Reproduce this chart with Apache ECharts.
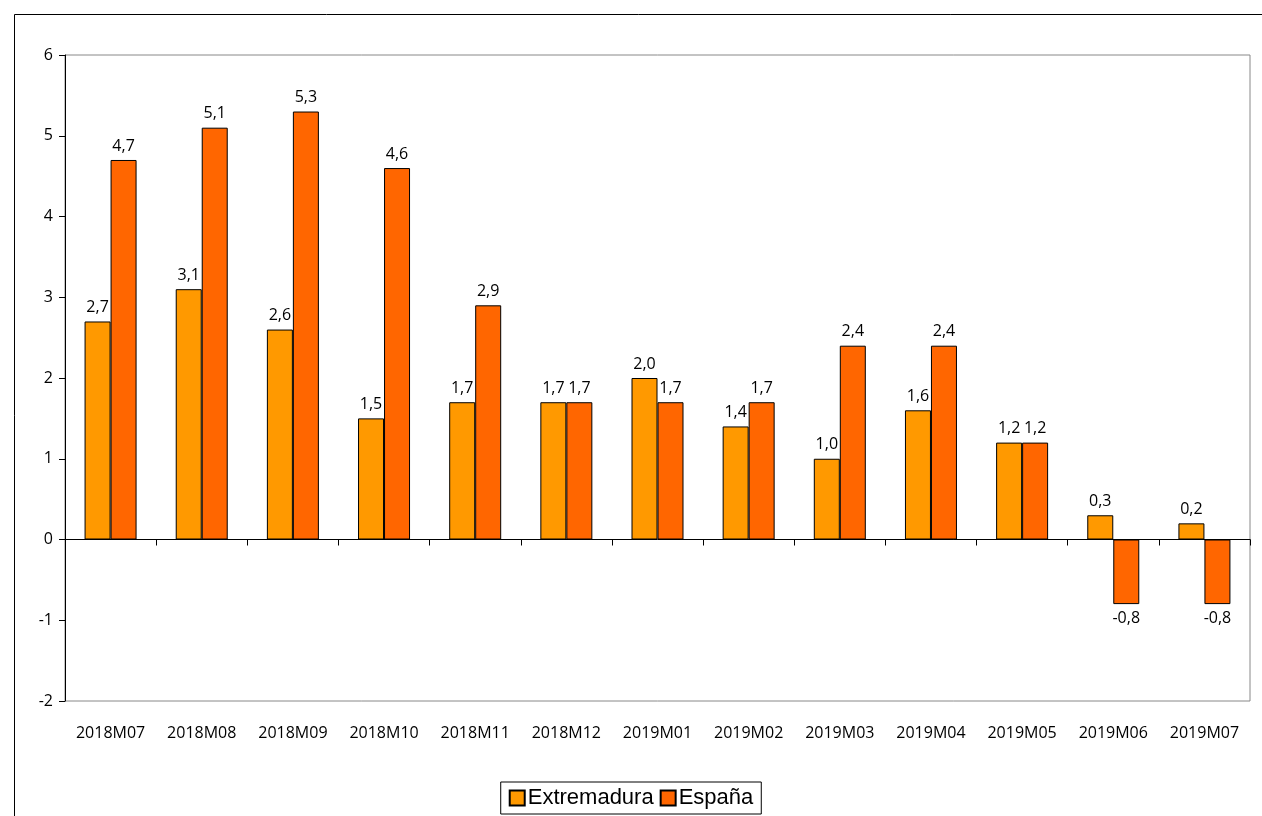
<!DOCTYPE html>
<html>
<head>
<meta charset="utf-8">
<script src="https://cdn.jsdelivr.net/npm/echarts@6/dist/echarts.min.js"></script>
<style>html,body{margin:0;padding:0;background:#fff}#main{width:1262px;height:816px}</style>
</head>
<body>
<div id="main"></div>
<script>
var categories = ['2018M07','2018M08','2018M09','2018M10','2018M11','2018M12','2019M01','2019M02','2019M03','2019M04','2019M05','2019M06','2019M07'];
var extremadura = [2.7,3.1,2.6,1.5,1.7,1.7,2.0,1.4,1.0,1.6,1.2,0.3,0.2];
var espana = [4.7,5.1,5.3,4.6,2.9,1.7,1.7,1.7,2.4,2.4,1.2,-0.8,-0.8];

var myChart = echarts.init(document.getElementById('main'), null, {renderer: 'canvas'});
function fmt(p){ return p.value.toFixed(1).replace('.', ','); }
var labelStyle = {
    show: true, formatter: fmt, color: '#000', fontSize: 16,
    fontFamily: 'Open Sans', distance: 6
};
var option = {
    backgroundColor: '#fff',
    animation: false,
    graphic: [{
        type: 'rect', shape: {x: 14.5, y: 14.5, width: 1260, height: 820},
        style: {fill: 'none', stroke: '#000', lineWidth: 1}
    }],
    grid: {left: 65, right: 12, top: 55, bottom: 115, show: true, borderColor: '#888', borderWidth: 1},
    legend: {
        bottom: 2, left: 'center', itemWidth: 15, itemHeight: 15, itemGap: 6,
        icon: 'rect',
        padding: [5, 8], borderColor: '#000', borderWidth: 1,
        textStyle: {fontSize: 22, fontFamily: 'Liberation Sans', color: '#000', padding: [0, 0, 0, -2]},
        data: ['Extremadura', 'España']
    },
    xAxis: [{
        type: 'category', data: categories,
        axisLine: {onZero: true, lineStyle: {color: '#000'}},
        axisTick: {show: true, length: 6, lineStyle: {color: '#000'}},
        axisLabel: {show: false}
    }, {
        type: 'category', data: categories, position: 'bottom',
        axisLine: {show: false}, axisTick: {show: false},
        axisLabel: {color: '#000', fontSize: 16, fontFamily: 'Open Sans', margin: 24, interval: 0}
    }],
    yAxis: {
        type: 'value', min: -2, max: 6, interval: 1,
        splitLine: {show: false},
        axisLine: {show: true, lineStyle: {color: '#000'}},
        axisTick: {show: true, length: 6, lineStyle: {color: '#000'}},
        axisLabel: {color: '#000', fontSize: 16, fontFamily: 'Open Sans', margin: 12}
    },
    series: [{
        name: 'Extremadura', type: 'bar', data: extremadura,
        barWidth: 26, barGap: 0,
        itemStyle: {color: '#FF9900', borderColor: '#000', borderWidth: 1},
        label: Object.assign({position: 'top'}, labelStyle)
    }, {
        name: 'España', type: 'bar', data: espana,
        barWidth: 26,
        itemStyle: {color: '#FF6600', borderColor: '#000', borderWidth: 1},
        label: Object.assign({position: 'top'}, labelStyle)
    }]
};
// negative labels go below the bar
option.series[1].data = espana.map(function (v) {
    return v < 0 ? {value: v, label: {position: 'bottom'}} : v;
});
myChart.setOption(option);
</script>
</body>
</html>
